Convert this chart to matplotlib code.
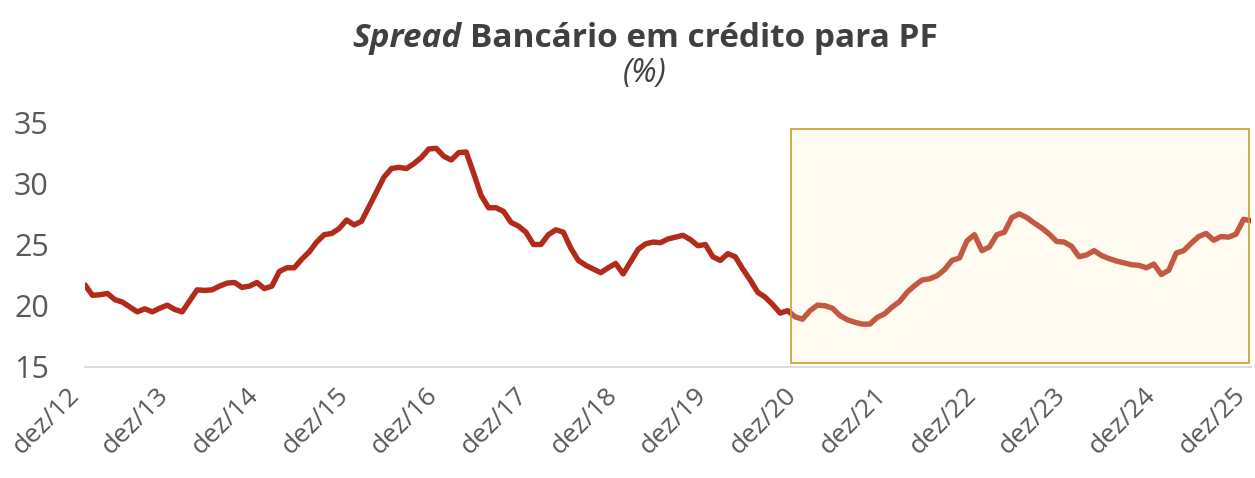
import matplotlib.pyplot as plt
from matplotlib.patches import Rectangle
from matplotlib.transforms import ScaledTranslation

# monthly series, dez/12 .. dez/25
spread_2012_2016 = [21.7, 20.85, 20.9, 21.0, 20.5, 20.3, 19.9, 19.5, 19.75, 19.5,
                    19.8, 20.05, 19.7, 19.5, 20.4, 21.3, 21.25, 21.3, 21.6, 21.85,
                    21.9, 21.5, 21.6, 21.9, 21.4, 21.6, 22.8, 23.1, 23.1, 23.8,
                    24.4, 25.2, 25.8, 25.9, 26.3, 27.0, 26.6, 26.9, 28.1, 29.3,
                    30.5, 31.2, 31.3, 31.2, 31.6]
spread_2016_2020 = [32.1, 32.8, 32.85, 32.2, 31.9, 32.5, 32.55, 30.8, 29.0, 28.0,
                    28.0, 27.7, 26.8, 26.5, 26.0, 25.0, 25.0, 25.8, 26.2, 26.0,
                    24.7, 23.7, 23.3, 23.0, 22.7, 23.1, 23.45, 22.6, 23.6, 24.6,
                    25.05, 25.2, 25.15, 25.45, 25.6, 25.75, 25.4, 24.9, 25.0, 24.0,
                    23.7, 24.25, 24.0, 23.0, 22.1, 21.1, 20.7, 20.1, 19.4, 19.6,
                    19.1]
spread_2020_2025 = [18.9, 19.6, 20.05, 20.0, 19.8, 19.2, 18.85, 18.65, 18.5, 18.5,
                    19.05, 19.35, 19.9, 20.35, 21.1, 21.65, 22.1, 22.2, 22.45, 22.95,
                    23.7, 23.9, 25.3, 25.8, 24.5, 24.8, 25.8, 26.0, 27.2, 27.5,
                    27.2, 26.75, 26.35, 25.85, 25.25, 25.2, 24.85, 24.0, 24.15, 24.5,
                    24.1, 23.85, 23.65, 23.5, 23.35, 23.3, 23.1, 23.4, 22.55, 22.9,
                    24.3, 24.5, 25.1, 25.65, 25.9, 25.35, 25.65, 25.6, 25.85, 27.05,
                    26.95]
spread = spread_2012_2016 + spread_2016_2020 + spread_2020_2025
months = list(range(len(spread)))

tick_months = list(range(0, len(spread), 12))
tick_labels = ["dez/%02d" % (12 + k) for k in range(len(tick_months))]
y_ticks = [15, 20, 25, 30, 35]

# highlighted period (x in months, y in %)
box_x0, box_x1 = 94.5, 155.7
box_y0, box_y1 = 15.3, 34.4

FONT = "Open Sans"
grey = "#595959"

fig = plt.figure(figsize=(12.55, 4.78), dpi=100)
ax = fig.add_axes([85 / 1255, 111 / 478, 1166 / 1255, 245 / 478])

ax.plot(months, spread, color="#B22A1A", lw=3.9, solid_capstyle="round",
        solid_joinstyle="round", zorder=2)

# translucent cream panel over the line + golden frame
ax.add_patch(Rectangle((box_x0, box_y0), box_x1 - box_x0, box_y1 - box_y0,
                       facecolor="#FFF2C7", alpha=0.24, edgecolor="none",
                       zorder=3, clip_on=False))
ax.add_patch(Rectangle((box_x0, box_y0), box_x1 - box_x0, box_y1 - box_y0,
                       facecolor="none", edgecolor="#C9A02A", lw=1.2,
                       zorder=4, clip_on=False))

ax.set_xlim(0, months[-1])
ax.set_ylim(15, 35)
ax.set_yticks(y_ticks)
ax.set_yticklabels([str(v) for v in y_ticks], fontsize=22, color=grey,
                   family=FONT)
ax.set_xticks(tick_months)
ax.set_xticklabels(tick_labels, rotation=45, ha="right", va="center",
                   rotation_mode="anchor", fontsize=19, color=grey,
                   family=FONT)
ax.tick_params(axis="y", length=0, pad=26)
ax.tick_params(axis="x", length=0, pad=18)
shift = ScaledTranslation(-7 / 72, 0, fig.dpi_scale_trans)
for lab in ax.get_xticklabels():
    lab.set_transform(lab.get_transform() + shift)
for s in ["top", "right", "left"]:
    ax.spines[s].set_visible(False)
ax.spines["bottom"].set_color("#D9D9D9")
ax.spines["bottom"].set_linewidth(1.3)

# title: italic "Spread" + bold rest, centred together
renderer = fig.canvas.get_renderer()
W = fig.bbox.width
ty = 0.92
t1 = fig.text(0, ty, "Spread", fontsize=24, fontweight="bold", fontstyle="italic",
              color="#404040", family=FONT, va="center")
t2 = fig.text(0, ty, "Bancário em crédito para PF", fontsize=24, fontweight="bold",
              color="#404040", family=FONT, va="center")
w1 = t1.get_window_extent(renderer).width
w2 = t2.get_window_extent(renderer).width
gap = 8
start = 0.514 * W - (w1 + gap + w2) / 2
t1.set_x(start / W)
t2.set_x((start + w1 + gap) / W)

fig.text(0.514, 0.846, "(%)", fontsize=23, fontstyle="italic",
         color="#404040", family=FONT, ha="center", va="center")

plt.savefig("out.png", dpi=100)
